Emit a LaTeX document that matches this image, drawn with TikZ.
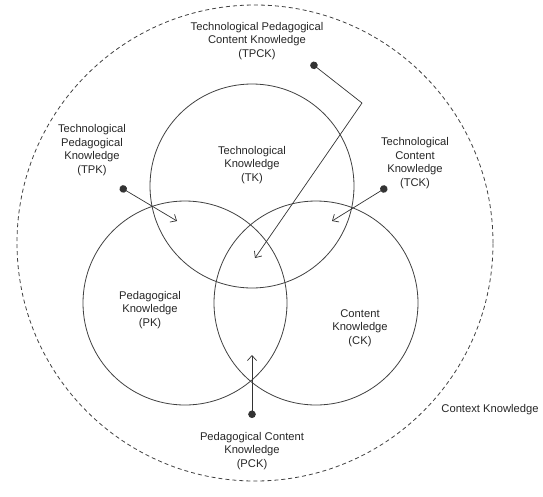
\documentclass[tikz,border=0pt]{standalone}
\usepackage{fontspec}
\setmainfont{Liberation Sans}
\usetikzlibrary{arrows.meta}

\tikzset{
  area/.style={circle, draw=black!75, line width=0.8pt, minimum size=204pt, inner sep=0pt},
  label/.style={align=center, font=\fontsize{11.2}{13.5}\selectfont, text=black!85, inner sep=0pt},
  pointer/.style={draw=black!80, line width=0.7pt, {Circle[length=7.5pt]}-{Straight Barb[length=5pt,width=9pt]}}
}

\begin{document}
\begin{tikzpicture}[x=1pt,y=-1pt]
\useasboundingbox (0,0) rectangle (543,496);

% context
\node[circle, draw=black!75, dash pattern=on 4pt off 3pt, line width=0.8pt, minimum size=476pt, inner sep=0pt] (ctx) at (255,243) {};

% the three knowledge areas
\node[area] (tk) at (252,186) {};
\node[area] (pk) at (185,303) {};
\node[area] (ck) at (316,303) {};

\node[label] (tklabel) at (252,165) {Technological\\Knowledge\\(TK)};
\node[label] (pklabel) at (150,310) {Pedagogical\\Knowledge\\(PK)};
\node[label] (cklabel) at (360,328) {Content\\Knowledge\\(CK)};

% overlaps
\node[label] (tpcklabel) at (257,41) {Technological Pedagogical\\Content Knowledge\\(TPCK)};
\node[label] (tpklabel) at (92,150) {Technological\\Pedagogical\\Knowledge\\(TPK)};
\node[label] (tcklabel) at (415,163) {Technological\\Content\\Knowledge\\(TCK)};
\node[label] (pcklabel) at (252,451) {Pedagogical Content\\Knowledge\\(PCK)};
\node[label] (ctxlabel) at (490,410) {Context Knowledge};

\coordinate (tpckdot) at (311,63);
\coordinate (tpckbend) at (362,103);
\coordinate (tpcktip) at (255,258);
\coordinate (tpkdot) at (120,187);
\coordinate (tpktip) at (177,221);
\coordinate (tckdot) at (387,187);
\coordinate (tcktip) at (332,221);
\coordinate (pckdot) at (252,418);
\coordinate (pcktip) at (252,355);

\draw[pointer] (tpckdot) -- (tpckbend) -- (tpcktip);
\draw[pointer] (tpkdot) -- (tpktip);
\draw[pointer] (tckdot) -- (tcktip);
\draw[pointer] (pckdot) -- (pcktip);
\end{tikzpicture}
\end{document}
